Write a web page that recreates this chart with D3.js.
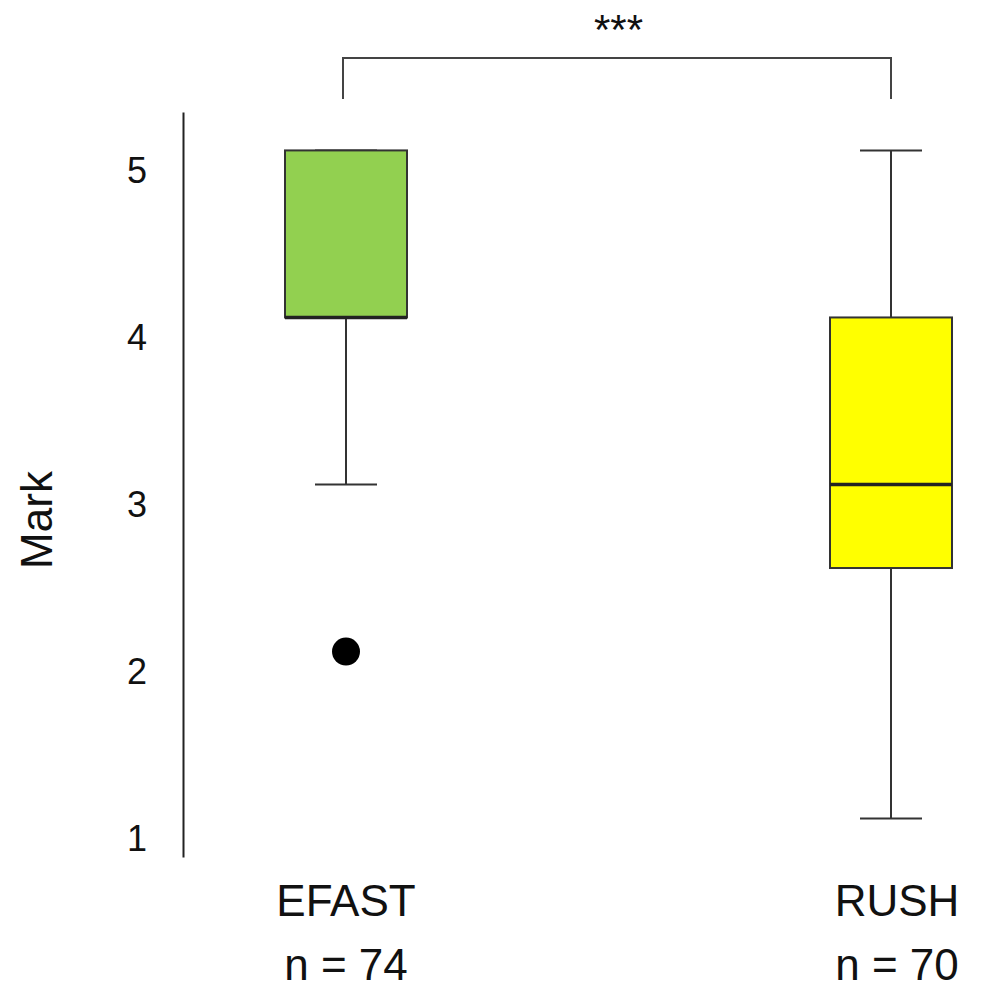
<!DOCTYPE html>
<html>
<head>
<meta charset="utf-8">
<script src="https://cdn.jsdelivr.net/npm/d3@7"></script>
<style>
  body { margin: 0; background: #fff; }
  text { font-family: "Liberation Sans", Arial, sans-serif; fill: #111; }
</style>
</head>
<body>
<svg id="chart"></svg>
<script>
// data
const groups = ["EFAST", "RUSH"];
const counts = [74, 70];
const whiskerLow = [3, 1];
const q1 = [4, 2.5];
const median = [4, 3];
const q3 = [5, 4];
const whiskerHigh = [5, 5];
const outliers = [[2], []];
const fills = ["#92d050", "#ffff00"];
const yTicks = [1, 2, 3, 4, 5];
const signif = "***";

const width = 981, height = 990;
const svg = d3.select("#chart").attr("width", width).attr("height", height);

const y = d3.scaleLinear().domain([0.77, 5.23]).range([857, 112]);
const x = d3.scalePoint().domain(groups).range([346, 891]);
const boxW = 122;
const capW = 62;

// y axis, no tick marks, labels sit a bit below their value
const yAxis = svg.append("g")
  .attr("transform", "translate(183,0)")
  .call(d3.axisLeft(y).tickValues(yTicks).tickFormat(d3.format("d"))
    .tickSize(0).tickSizeOuter(0).tickPadding(36));
yAxis.select(".domain").attr("stroke", "#222").attr("stroke-width", 2);
yAxis.selectAll("text")
  .attr("font-size", 36)
  .attr("dy", 32)
  .attr("font-family", "Liberation Sans, Arial, sans-serif")
  .attr("fill", "#111");

svg.append("text")
  .attr("transform", "translate(52,520) rotate(-90)")
  .attr("text-anchor", "middle")
  .attr("font-size", 44)
  .text("Mark");

const g = svg.append("g");
groups.forEach((name, i) => {
  const cx = x(name);
  // whiskers
  g.append("line").attr("x1", cx).attr("x2", cx)
    .attr("y1", y(q3[i])).attr("y2", y(whiskerHigh[i]))
    .attr("stroke", "#333").attr("stroke-width", 2);
  g.append("line").attr("x1", cx).attr("x2", cx)
    .attr("y1", y(q1[i])).attr("y2", y(whiskerLow[i]))
    .attr("stroke", "#333").attr("stroke-width", 2);
  [whiskerLow[i], whiskerHigh[i]].forEach(v => {
    g.append("line").attr("x1", cx - capW / 2).attr("x2", cx + capW / 2)
      .attr("y1", y(v)).attr("y2", y(v))
      .attr("stroke", "#333").attr("stroke-width", 2);
  });
  // box
  g.append("rect")
    .attr("x", cx - boxW / 2).attr("width", boxW)
    .attr("y", y(q3[i])).attr("height", y(q1[i]) - y(q3[i]))
    .attr("fill", fills[i]).attr("stroke", "#333").attr("stroke-width", 2);
  g.append("line").attr("x1", cx - boxW / 2).attr("x2", cx + boxW / 2)
    .attr("y1", y(median[i])).attr("y2", y(median[i]))
    .attr("stroke", "#222").attr("stroke-width", 3.5);
  outliers[i].forEach(v => {
    g.append("circle").attr("cx", cx).attr("cy", y(v)).attr("r", 14).attr("fill", "#000");
  });
  // labels
  svg.append("text").attr("x", cx + i * 6).attr("y", 916)
    .attr("text-anchor", "middle").attr("font-size", 44).text(name);
  svg.append("text").attr("x", cx + i * 6).attr("y", 980)
    .attr("text-anchor", "middle").attr("font-size", 44).text("n = " + counts[i]);
});

// significance bracket
const by = 58;
svg.append("path")
  .attr("d", d3.line()([[x(groups[0]) - 3, 99], [x(groups[0]) - 3, by], [x(groups[1]), by], [x(groups[1]), 99]]))
  .attr("fill", "none").attr("stroke", "#444").attr("stroke-width", 2);
svg.append("text").attr("x", (x(groups[0]) + x(groups[1])) / 2).attr("y", 44)
  .attr("text-anchor", "middle").attr("font-size", 42).text(signif);
</script>
</body>
</html>
